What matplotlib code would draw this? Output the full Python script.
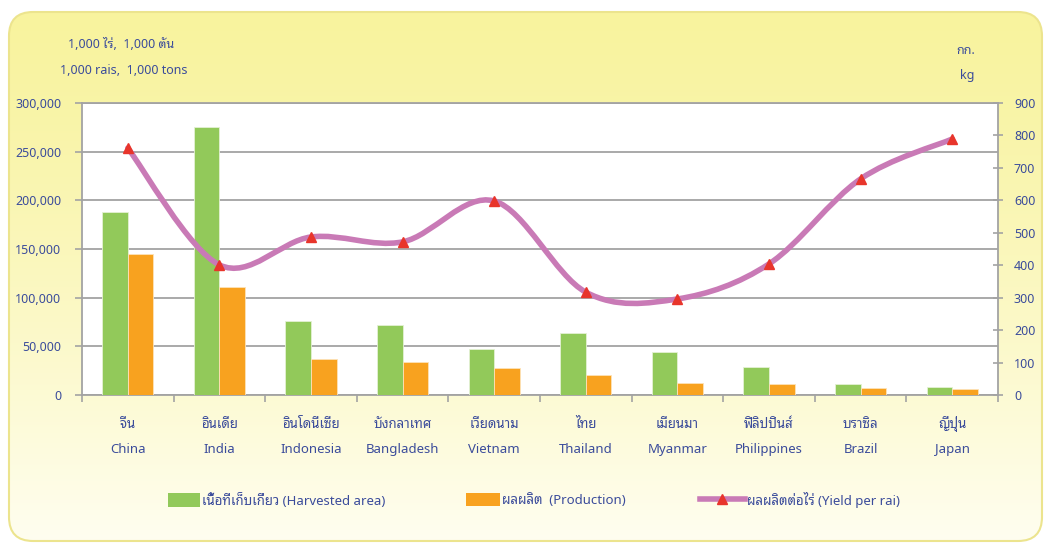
import numpy as np
import matplotlib
matplotlib.use('Agg')
import matplotlib.pyplot as plt
from matplotlib.patches import FancyBboxPatch, PathPatch, Patch
from matplotlib.path import Path
from matplotlib.lines import Line2D
from matplotlib.ticker import FuncFormatter, MultipleLocator

# data
countries_th = ['จีน', 'อินเดีย', 'อินโดนีเซีย', 'บังกลาเทศ', 'เวียดนาม',
                'ไทย', 'เมียนมา', 'ฟิลิปปินส์', 'บราซิล', 'ญี่ปุ่น']
countries_en = ['China', 'India', 'Indonesia', 'Bangladesh', 'Vietnam',
                'Thailand', 'Myanmar', 'Philippines', 'Brazil', 'Japan']
harvested_area = [188000, 275000, 76000, 72000, 47000, 64000, 44000, 29000, 11000, 8500]
production = [145000, 111000, 37000, 34000, 28000, 21000, 12000, 11000, 7000, 6500]
yield_per_rai = [761, 401, 487, 472, 598, 317, 296, 404, 666, 789]

FONT = ['Noto Sans Thai Looped', 'DejaVu Sans']
TXT = '#3b4c9b'
GREEN = '#92c95a'
ORANGE = '#f8a21f'
LINE = '#c97ab6'
RED = '#e8352b'

plt.rcParams['font.family'] = FONT

fig = plt.figure(figsize=(10.47, 5.45), dpi=100)

# yellow rounded background with vertical gradient
bg = fig.add_axes([0, 0, 1, 1], zorder=-5)
bg.set_xlim(0, 1047)
bg.set_ylim(545, 0)
bg.axis('off')
grad = np.linspace(0, 1, 256).reshape(-1, 1)
top = np.array([248, 243, 158]) / 255.0
bot = np.array([255, 254, 240]) / 255.0
img = top + (bot - top) * grad[..., None] ** 1.3
img = np.repeat(img, 2, axis=1)
box = FancyBboxPatch((9, 12), 1033, 529, boxstyle='round,pad=0,rounding_size=24',
                     facecolor='none', edgecolor='#ece48e', lw=1.5)
bg.add_patch(box)
im = bg.imshow(img, extent=[9, 1042, 541, 12], aspect='auto')
im.set_clip_path(box)

ax = fig.add_axes([82 / 1047, 150 / 545, 916 / 1047, 292 / 545])
ax.set_facecolor('white')
x = np.arange(len(countries_en))
w = 0.28
ax.bar(x - w, harvested_area, w, align='edge', color=GREEN, edgecolor='#e4f1d4', lw=0.6, zorder=3)
ax.bar(x, production, w, align='edge', color=ORANGE, edgecolor='#fde2b8', lw=0.6, zorder=3)

ax.set_xlim(-0.5, len(x) - 0.5)
ax.set_ylim(0, 300000)
ax.yaxis.set_major_locator(MultipleLocator(50000))
ax.yaxis.set_major_formatter(FuncFormatter(lambda v, p: '{:,.0f}'.format(v)))
ax.grid(axis='y', color='#a3a3a3', lw=1.3, zorder=1)
ax.set_xticks(np.arange(-0.5, len(x), 1.0))
ax.set_xticklabels([])
ax.tick_params(axis='x', length=5, color='#a3a3a3', width=1.2)
ax.tick_params(axis='y', length=5, color='#a3a3a3', width=1.2, labelcolor=TXT, labelsize=9, pad=10)
for s in ax.spines.values():
    s.set_color('#a3a3a3')
    s.set_linewidth(1.3)

for i in x:
    ax.text(i, -30000, countries_th[i], ha='center', va='center', color=TXT, fontsize=9.5)
    ax.text(i, -56000, countries_en[i], ha='center', va='center', color=TXT, fontsize=9.5)

ax2 = ax.twinx()
ax2.set_ylim(0, 900)
ax2.yaxis.set_major_locator(MultipleLocator(100))
ax2.tick_params(axis='y', direction='inout', length=7, color='#a3a3a3', width=1.2,
                labelcolor=TXT, labelsize=9, pad=8)
for s in ax2.spines.values():
    s.set_visible(False)

# smooth line like Excel (bezier through the points)
pts = np.column_stack([x, yield_per_rai]).astype(float)
verts = [pts[0]]
codes = [Path.MOVETO]
n = len(pts)
for i in range(n - 1):
    p0 = pts[max(i - 1, 0)]
    p1 = pts[i]
    p2 = pts[i + 1]
    p3 = pts[min(i + 2, n - 1)]
    verts += [p1 + (p2 - p0) / 6.0, p2 - (p3 - p1) / 6.0, p2]
    codes += [Path.CURVE4] * 3
ax2.add_patch(PathPatch(Path(verts, codes), facecolor='none', edgecolor=LINE, lw=4, zorder=4,
                        capstyle='round'))
ax2.plot(x, yield_per_rai, linestyle='none', marker='^', markersize=7.5, color=RED, zorder=5)

fig.text(68 / 1047, 1 - 44 / 545, '1,000 ไร่,  1,000 ตัน', color=TXT, fontsize=9, va='center')
fig.text(60 / 1047, 1 - 70 / 545, '1,000 rais,  1,000 tons', color=TXT, fontsize=9, va='center')
fig.text(966 / 1047, 1 - 50 / 545, 'กก.', color=TXT, fontsize=9, va='center', ha='center')
fig.text(967 / 1047, 1 - 76 / 545, 'kg', color=TXT, fontsize=9, va='center', ha='center')

# legend: one entry each so they sit where the original puts them
entries = [
    (Patch(facecolor=GREEN, edgecolor='none'), 'เนื้อที่เก็บเกี่ยว (Harvested area)', 168, 2.45),
    (Patch(facecolor=ORANGE, edgecolor='none'), 'ผลผลิต  (Production)', 466, 2.55),
    (Line2D([], [], color=LINE, lw=4, marker='^', markersize=7.5,
            markerfacecolor=RED, markeredgecolor=RED), 'ผลผลิตต่อไร่ (Yield per rai)', 700, 3.4),
]
for h, lab, left, hl in entries:
    fig.legend([h], [lab], loc='center left', bbox_to_anchor=(left / 1047, 1 - 500 / 545),
               frameon=False, fontsize=9.5, labelcolor=TXT, handlelength=hl,
               handletextpad=0.15, handleheight=1.2, borderpad=0, borderaxespad=0)

fig.savefig('out.png', dpi=100)
